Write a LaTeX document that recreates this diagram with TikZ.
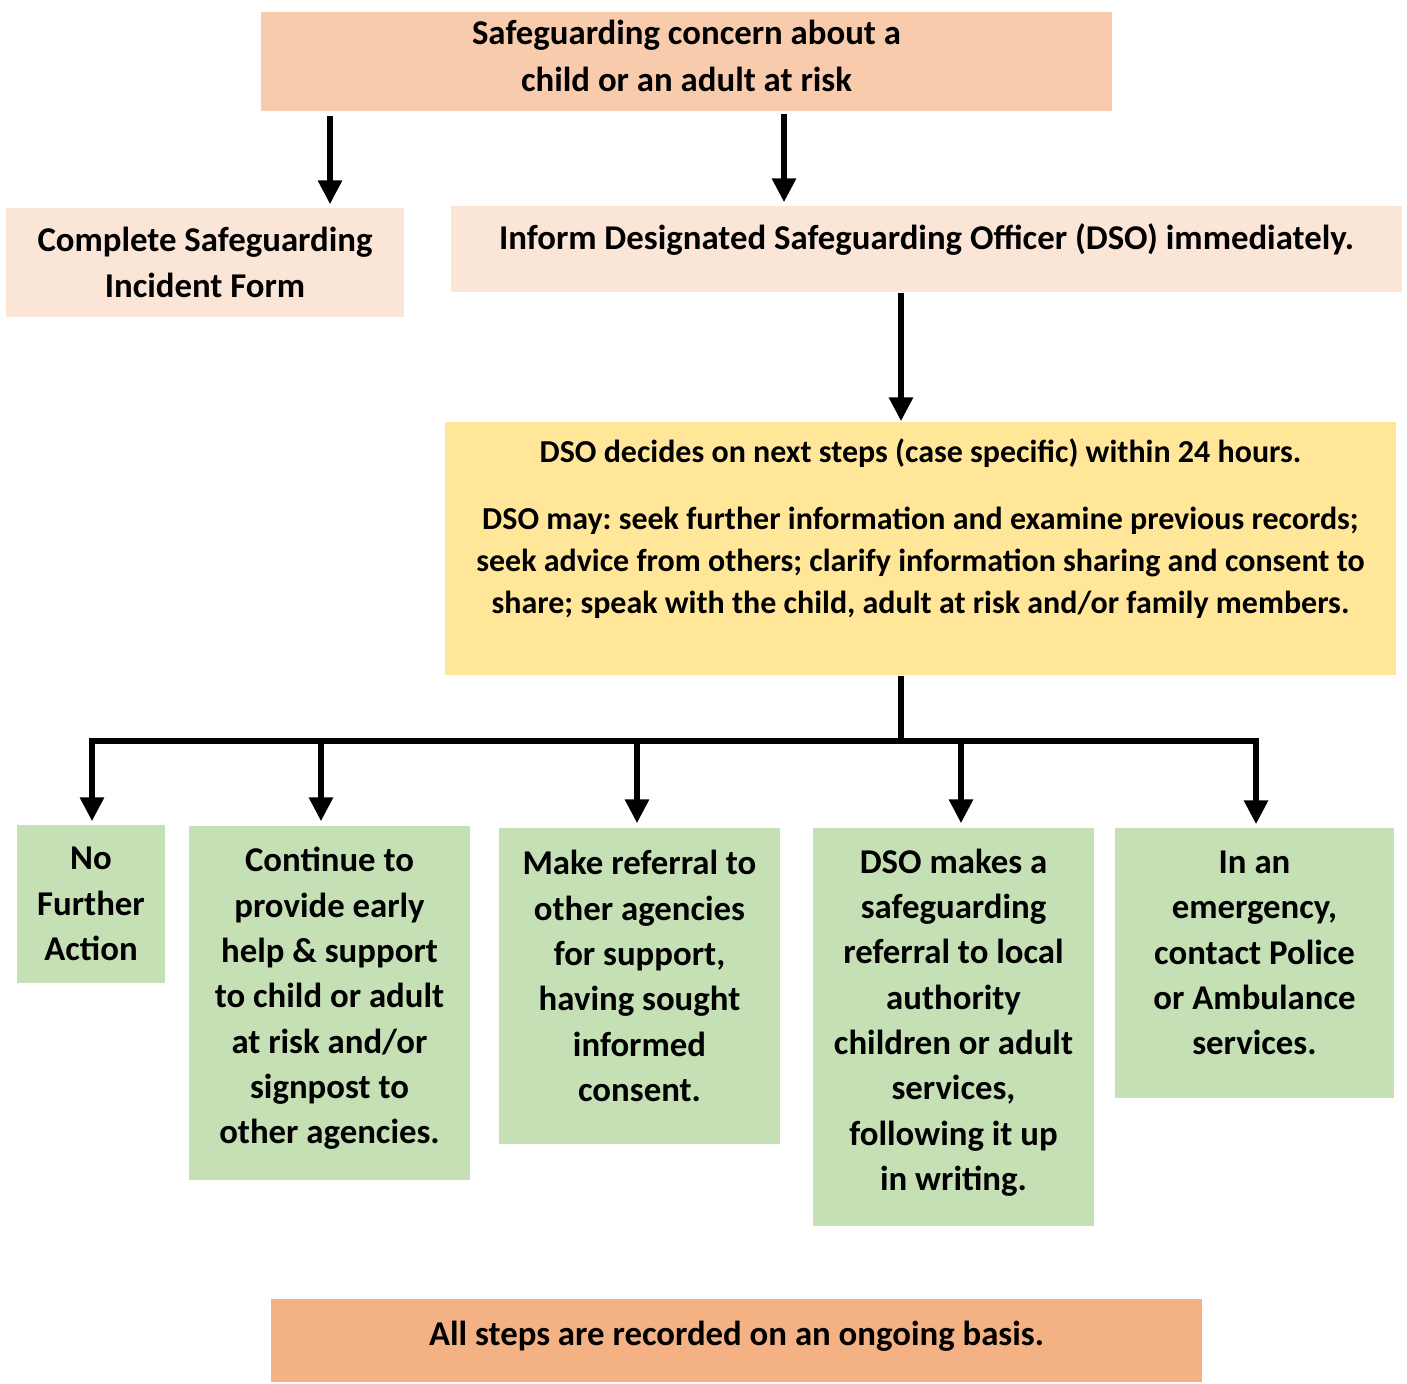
\documentclass[tikz,border=0pt]{standalone}
\usepackage{fontspec}
\setmainfont{Carlito}
\usepackage{tikz}
\usetikzlibrary{arrows.meta, positioning, calc}
\definecolor{peach}{HTML}{F8CBAD}
\definecolor{paleorange}{HTML}{FBE5D6}
\definecolor{lightyellow}{HTML}{FFE699}
\definecolor{lightgreen}{HTML}{C5E0B4}
\definecolor{orangebar}{HTML}{F4B183}
\frenchspacing
\tikzset{
  box/.style={
    rectangle, draw=none, inner sep=2pt, align=center,
    font=\fontsize{9.9}{12.9}\selectfont\bfseries
  },
  topbox/.style={box, fill=peach, font=\fontsize{9.9}{13.3}\selectfont\bfseries},
  stepbox/.style={box, fill=paleorange},
  decidebox/.style={box, fill=lightyellow, font=\fontsize{9.1}{11.9}\selectfont\bfseries},
  actionbox/.style={box, fill=lightgreen},
  recordbox/.style={box, fill=orangebar},
  link/.style={draw, line width=0.06cm},
  arr/.style={link, -{Triangle[width=0.23cm, length=0.24cm]}},
}

\begin{document}
\begin{tikzpicture}
  \useasboundingbox (0,0) rectangle (14.07,-13.83);

  % boxes
  \node[topbox, minimum width=8.51cm, minimum height=0.99cm, text depth=0.12cm] (concern) at (6.865,-0.615)
    {Safeguarding concern about a\\child or an adult at risk};
  \node[stepbox, minimum width=3.98cm, minimum height=1.09cm] (form) at (2.05,-2.625)
    {Complete Safeguarding\\Incident Form};
  \node[stepbox, minimum width=9.51cm, minimum height=0.86cm, text depth=0.25cm] (inform) at (9.265,-2.49)
    {Inform Designated Safeguarding Officer (DSO) immediately.};
  \node[decidebox, minimum width=9.51cm, minimum height=2.53cm, text depth=0.45cm] (decide) at (9.205,-5.485)
    {DSO decides on next steps (case specific) within 24 hours.\\[0.25cm]
     DSO may: seek further information and examine previous records;\\
     seek advice from others; clarify information sharing and consent to\\
     share; speak with the child, adult at risk and/or family members.};

  \node[actionbox, minimum width=1.48cm, minimum height=1.58cm] (nfa) at (0.91,-9.04)
    {No\\Further\\Action};
  \node[actionbox, minimum width=2.81cm, minimum height=3.54cm, text depth=0.15cm] (help) at (3.295,-10.03)
    {Continue to\\provide early\\help \& support\\to child or adult\\at risk and/or\\signpost to\\other agencies.};
  \node[actionbox, minimum width=2.81cm, minimum height=3.16cm, text depth=0.2cm] (refer) at (6.395,-9.86)
    {Make referral to\\other agencies\\for support,\\having sought\\informed\\consent.};
  \node[actionbox, minimum width=2.81cm, minimum height=3.98cm, text depth=0.15cm] (local) at (9.535,-10.27)
    {DSO makes a\\safeguarding\\referral to local\\authority\\children or adult\\services,\\following it up\\in writing.};
  \node[actionbox, minimum width=2.79cm, minimum height=2.70cm, text depth=0.2cm] (police) at (12.545,-9.63)
    {In an\\emergency,\\contact Police\\or Ambulance\\services.};

  \node[recordbox, minimum width=9.31cm, minimum height=0.83cm, text depth=0.15cm] (record) at (7.365,-13.405)
    {All steps are recorded on an ongoing basis.};

  % connectors
  \draw[arr, shorten <=0.04cm, shorten >=0.03cm] (concern.south -| 3.30,0) -- (form.north -| 3.30,0);
  \draw[arr, shorten <=0.02cm, shorten >=0.03cm] (concern.south -| 7.84,0) -- (inform.north -| 7.84,0);
  \draw[arr] (inform.south -| 9.01,0) -- (decide.north -| 9.01,0);

  \coordinate (bus) at (9.01,-7.41);
  \draw[link] (decide.south -| bus) -- (bus);
  \draw[arr, shorten >=0.03cm] (bus) -| (nfa.north -| 0.92,0);
  \draw[arr, shorten >=0.03cm] (bus) -| (police.north -| 12.56,0);
  \foreach \n/\x in {help/3.21, refer/6.37, local/9.61}
    \draw[arr, shorten >=0.04cm] (\x,-7.41) -- (\n.north -| \x,0);
\end{tikzpicture}
\end{document}
